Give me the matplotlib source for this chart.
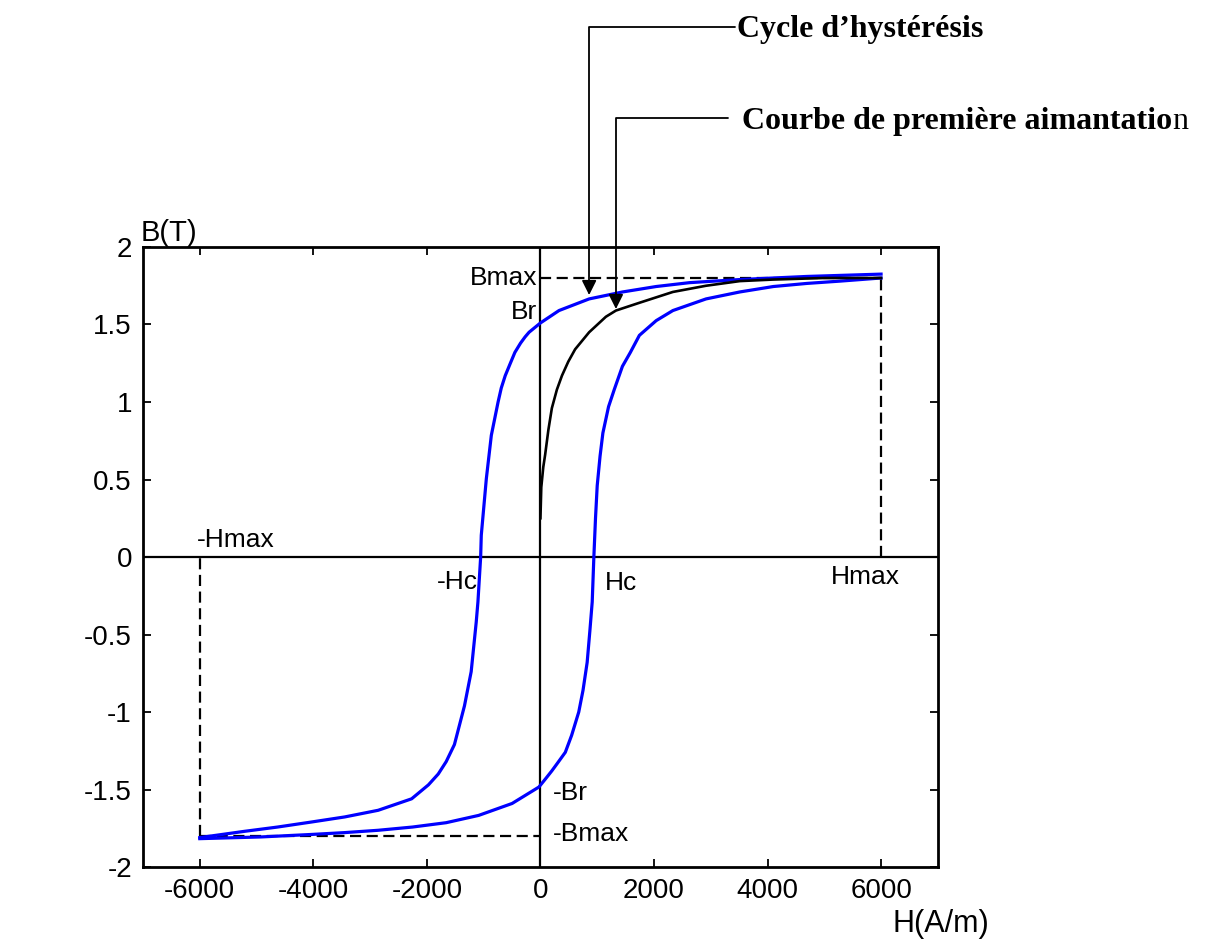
import matplotlib
matplotlib.use("Agg")
import matplotlib.pyplot as plt

plt.rcParams['font.family'] = ['Liberation Sans', 'DejaVu Sans']
plt.rcParams['axes.unicode_minus'] = False

# Branche descendante du cycle (de +Hmax vers -Hmax)
h_desc = [6000, 4694, 3513, 2628, 2039, 1448, 858, 327, 0, -100, -200, -270,
          -350, -450, -530, -620, -690, -746, -865, -953, -1042, -1053,
          -1101, -1131, -1220, -1338, -1515, -1660, -1800, -1973, -2269,
          -2858, -3448, -4039, -4628, -5218, -6000]
b_desc = [1.825, 1.81, 1.79, 1.77, 1.745, 1.71, 1.665, 1.59, 1.51, 1.48, 1.45,
          1.42, 1.38, 1.32, 1.25, 1.17, 1.09, 1.0, 0.785, 0.505, 0.14, 0.0,
          -0.29, -0.42, -0.74, -0.96, -1.21, -1.32, -1.40, -1.47, -1.56,
          -1.634, -1.677, -1.71, -1.742, -1.77, -1.81]

# Branche montante du cycle (de -Hmax vers +Hmax)
h_asc = [-6000, -4923, -4039, -3448, -2858, -2251, -1660, -1088, -499, -27,
         92, 200, 300, 438, 550, 675, 750, 823, 870, 912, 941, 970, 1000,
         1050, 1100, 1200, 1300, 1444, 1584, 1743, 2039, 2333, 2917, 3513,
         4103, 4694, 5283, 6000]
b_asc = [-1.817, -1.806, -1.79, -1.778, -1.763, -1.742, -1.714, -1.667, -1.59,
         -1.484, -1.43, -1.38, -1.33, -1.26, -1.15, -1.0, -0.86, -0.68, -0.48,
         -0.29, 0.0, 0.25, 0.46, 0.65, 0.8, 0.97, 1.08, 1.23, 1.32, 1.43,
         1.525, 1.59, 1.665, 1.71, 1.745, 1.765, 1.78, 1.80]

# Courbe de premiere aimantation
h_first = [0, 15, 50, 83, 140, 201, 290, 379, 490, 611, 858, 1153, 1330, 1743,
           2333, 2917, 3513, 4103, 5000, 6000]
b_first = [0.25, 0.45, 0.58, 0.66, 0.82, 0.96, 1.08, 1.17, 1.26, 1.34, 1.45,
           1.55, 1.59, 1.64, 1.71, 1.75, 1.78, 1.79, 1.80, 1.80]

h_max = 6000
b_max = 1.80

x_ticks = [-6000, -4000, -2000, 0, 2000, 4000, 6000]
x_labels = ['-6000', '-4000', '-2000', '0', '2000', '4000', '6000']
y_ticks = [-2, -1.5, -1, -0.5, 0, 0.5, 1, 1.5, 2]
y_labels = ['-2', '-1.5', '-1', '-0.5', '0', '0.5', '1', '1.5', '2']

fig = plt.figure(figsize=(12.07, 9.42), dpi=100)
ax = fig.add_axes([0.1185, 0.0796, 0.6585, 0.6582])

# axes H=0 et B=0
ax.axhline(0, color='black', lw=1.6)
ax.axvline(0, color='black', lw=1.6)

dash = (0, (5, 2.5))
ax.plot([0, h_max], [b_max, b_max], color='black', lw=1.6, linestyle=dash)
ax.plot([h_max, h_max], [0, b_max], color='black', lw=1.6, linestyle=dash)
ax.plot([-h_max, 0], [-b_max, -b_max], color='black', lw=1.6, linestyle=dash)
ax.plot([-h_max, -h_max], [-b_max, 0], color='black', lw=1.6, linestyle=dash)

ax.plot(h_desc, b_desc, color='#0000ff', lw=2.3)
ax.plot(h_asc, b_asc, color='#0000ff', lw=2.3)
ax.plot(h_first, b_first, color='black', lw=1.9)

ax.set_xlim(-7000, 7000)
ax.set_ylim(-2, 2)
ax.set_xticks(x_ticks)
ax.set_xticklabels(x_labels)
ax.set_yticks(y_ticks)
ax.set_yticklabels(y_labels)
ax.tick_params(direction='in', length=6, width=1.3, top=True, right=True,
               labelsize=20, pad=8)
for sp in ax.spines.values():
    sp.set_linewidth(2)

# etiquettes des points caracteristiques
fs = 19
ax.text(-60, b_max, 'Bmax', ha='right', va='center', fontsize=fs)
ax.text(-60, 1.58, 'Br', ha='right', va='center', fontsize=fs)
ax.text(-6050, 0.03, '-Hmax', ha='left', va='bottom', fontsize=fs)
ax.text(-1100, -0.16, '-Hc', ha='right', va='center', fontsize=fs)
ax.text(1135, -0.17, 'Hc', ha='left', va='center', fontsize=fs)
ax.text(5720, -0.13, 'Hmax', ha='center', va='center', fontsize=fs)
ax.text(220, -1.52, '-Br', ha='left', va='center', fontsize=fs)
ax.text(220, -1.79, '-Bmax', ha='left', va='center', fontsize=fs)

ax.text(-7050, 2.0, 'B(T)', ha='left', va='bottom', fontsize=21, clip_on=False)
ax.text(6200, -2.37, 'H(A/m)', ha='left', va='center', fontsize=22, clip_on=False)

# fleches et legendes en haut
serif = ['Liberation Serif', 'DejaVu Serif']
arrow = dict(arrowstyle='-|>', color='black', lw=1.3, mutation_scale=22,
             shrinkA=0, shrinkB=0,
             connectionstyle='angle,angleA=180,angleB=90,rad=0')
ax.annotate('', xy=(858, 1.69), xycoords='data',
            xytext=(735, 915), textcoords='figure pixels', arrowprops=arrow)
ax.annotate('', xy=(1330, 1.60), xycoords='data',
            xytext=(728, 824), textcoords='figure pixels', arrowprops=arrow)

fig.text(737 / 1207, 905 / 942, 'Cycle d’hystérésis', ha='left', va='baseline',
         fontsize=23, fontweight='bold', family=serif)
t2 = fig.text(742 / 1207, 813 / 942, 'Courbe de première aimantatio',
              ha='left', va='baseline', fontsize=23, fontweight='bold', family=serif)
fig.canvas.draw()
bb = t2.get_window_extent()
fig.text(bb.x1 / 1207, 813 / 942, 'n', ha='left', va='baseline',
         fontsize=23, family=serif)

fig.savefig('out.png', dpi=100)
